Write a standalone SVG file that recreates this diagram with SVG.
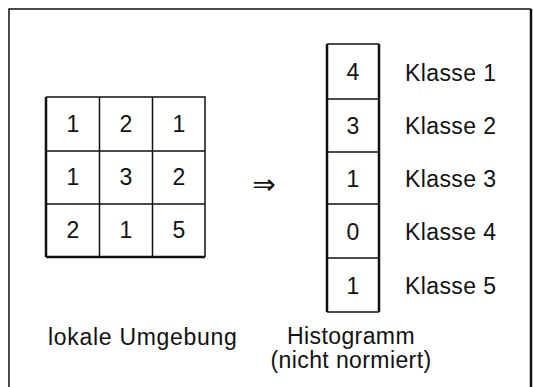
<svg xmlns="http://www.w3.org/2000/svg" width="533" height="387" viewBox="0 0 533 387">
<style>
.t{font-family:"Liberation Sans",Arial,sans-serif;font-size:23px;fill:#111;letter-spacing:0.4px}
.c{text-anchor:middle}
.ln{stroke:#111;stroke-width:1.5;fill:none}
.th{stroke:#111;stroke-width:2.5;fill:none}
</style>
<rect width="533" height="387" fill="#fff"/>
<g id="frame">
<path class="ln" d="M9,390 V9 H531"/>
<path class="th" d="M531,9 V390"/>
</g>
<g id="umgebung">
<path class="ln" d="M46,97 H205 V257 M46,151 H205 M46,204 H205 M99.5,97 V257 M152.5,97 V257"/>
<path class="th" d="M46,97 V257 M46,257 H205"/>
<text class="t c" x="73" y="132">1</text>
<text class="t c" x="126" y="132">2</text>
<text class="t c" x="179" y="132">1</text>
<text class="t c" x="73" y="185">1</text>
<text class="t c" x="126" y="185">3</text>
<text class="t c" x="179" y="185">2</text>
<text class="t c" x="73" y="238">2</text>
<text class="t c" x="126" y="238">1</text>
<text class="t c" x="179" y="238">5</text>
<text class="t" x="48" y="345" style="letter-spacing:0.7px">lokale Umgebung</text>
</g>
<g id="connectors">
<text x="264" y="194" style="font-family:'DejaVu Sans',sans-serif;font-size:28px;text-anchor:middle;fill:#111">⇒</text>
</g>
<g id="histogramm">
<path class="ln" d="M327,44 H379 M327,99 H379 M327,152 H379 M327,204 H379 M327,258 H379 M327,312 H379"/>
<path class="th" d="M327,44 V312 M379,44 V312"/>
<text class="t c" x="353" y="80">4</text>
<text class="t c" x="353" y="134">3</text>
<text class="t c" x="353" y="187">1</text>
<text class="t c" x="353" y="240">0</text>
<text class="t c" x="353" y="294">1</text>
<text class="t" x="405" y="81">Klasse 1</text>
<text class="t" x="405" y="134">Klasse 2</text>
<text class="t" x="405" y="187">Klasse 3</text>
<text class="t" x="405" y="240">Klasse 4</text>
<text class="t" x="405" y="294">Klasse 5</text>
<text class="t c" x="351" y="344">Histogramm</text>
<text class="t c" x="351" y="368">(nicht normiert)</text>
</g>
</svg>
